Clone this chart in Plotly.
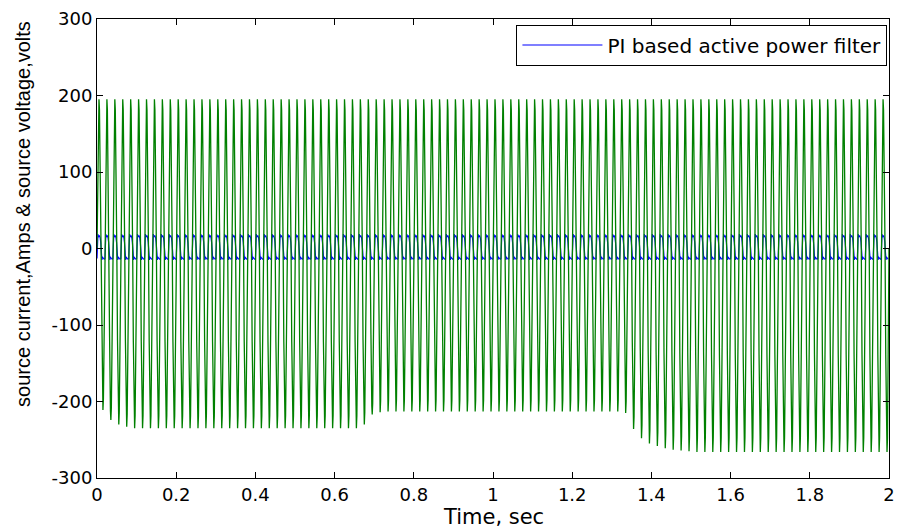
import plotly.graph_objects as go

# ---------------- data ----------------
freq_hz = 50            # supply frequency (100 cycles in 2 s)
n_cycles = 100

# source voltage: crest and trough of every cycle (volts)
volt_crest = [195] * 100
volt_trough = ([-211, -224, -230, -233] + [-235] * 29 + [-230, -217, -214]
               + [-213] * 30 + [-215]
               + [-236, -248, -255, -258, -261, -263, -264, -265]
               + [-266] * 25)

# sample positions inside one cycle (fraction of period) and normalised shape
volt_phase = [0.00, 0.09, 0.20, 0.25, 0.31, 0.42, 0.50, 0.59, 0.70, 0.75, 0.81, 0.92]
volt_shape = [0.00, 0.52, 0.95, 1.00, 0.93, 0.48, 0.00, -0.52, -0.95, -1.00, -0.93, -0.48]

# source current (amps) samples inside one cycle
curr_phase = [0.00, 0.05, 0.12, 0.16, 0.30, 0.40, 0.47, 0.55, 0.62, 0.66, 0.80, 0.92]
curr_vals = [-13, 4, 19, 15, 17, 14, 8, -5, -15, -11, -13, -14]

x_ticks = [0, 0.2, 0.4, 0.6, 0.8, 1, 1.2, 1.4, 1.6, 1.8, 2]
x_labels = ["0", "0.2", "0.4", "0.6", "0.8", "1", "1.2", "1.4", "1.6", "1.8", "2"]
y_ticks = [-300, -200, -100, 0, 100, 200, 300]
y_labels = ["-300", "-200", "-100", "0", "100", "200", "300"]

# ---------------- build series ----------------
tv, vv = [], []
for k in range(n_cycles):
    for p, s in zip(volt_phase, volt_shape):
        tv.append((k + p) / freq_hz)
        vv.append(s * volt_crest[k] if s >= 0 else -s * volt_trough[k])
tv.append(n_cycles / freq_hz)
vv.append(0.0)

ti, iv = [], []
for k in range(n_cycles):
    for p, c in zip(curr_phase, curr_vals):
        ti.append((k + p) / freq_hz)
        iv.append(c)

fig = go.Figure()
fig.add_trace(go.Scatter(x=ti, y=iv, mode="lines", name="PI based active power filter",
                         line=dict(color="rgb(0,0,255)", width=1.2)))
fig.add_trace(go.Scatter(x=tv, y=vv, mode="lines", showlegend=False,
                         line=dict(color="rgb(0,128,0)", width=1.3)))

axis_common = dict(showline=True, linecolor="black", linewidth=1, mirror="allticks",
                   ticks="inside", ticklen=6, tickcolor="black", showgrid=False,
                   zeroline=False, tickfont=dict(family="DejaVu Sans", size=18, color="black"))

fig.update_layout(
    width=903, height=530,
    margin=dict(l=97, r=8, t=15, b=52),
    paper_bgcolor="white", plot_bgcolor="white",
    xaxis=dict(range=[0, 2], tickvals=x_ticks, ticktext=x_labels, **axis_common),
    yaxis=dict(range=[-300, 300], tickvals=y_ticks, ticktext=y_labels, **axis_common),
    legend=dict(x=0.998, xanchor="right", y=0.988, yanchor="top",
                bordercolor="black", borderwidth=1, bgcolor="white",
                itemwidth=80,
                font=dict(family="DejaVu Sans", size=20, color="black")),
    annotations=[
        dict(text="Time, sec", xref="paper", yref="paper", x=0.5, y=-0.084,
             xanchor="center", yanchor="middle", showarrow=False,
             font=dict(family="DejaVu Sans", size=21, color="black")),
        dict(text="source current,Amps & source voltage,volts", xref="paper", yref="paper",
             x=-0.0927, y=0.5745, xanchor="center", yanchor="middle", textangle=-90,
             showarrow=False,
             font=dict(family="Liberation Sans", size=20, color="black")),
    ],
)

fig.write_html("out.html")
